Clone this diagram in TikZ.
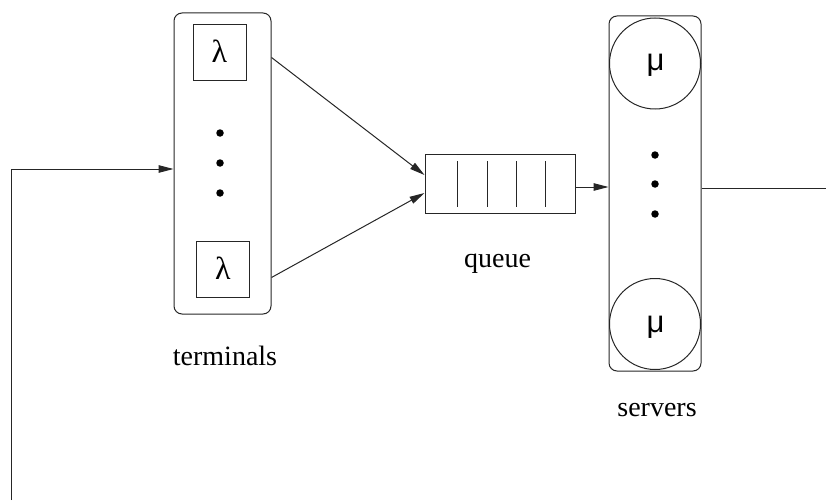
\documentclass[tikz,border=0pt]{standalone}
\usepackage{fontspec}
\setmainfont{Liberation Serif}
\newfontfamily\musans{Liberation Sans}
\usetikzlibrary{arrows.meta,calc}
\tikzset{
  ln/.style={draw=black!85, line width=1pt},
  arr/.style={ln, -{Triangle[length=15pt,width=7.5pt]}},
  grp/.style={ln, rectangle, rounded corners=8pt, inner sep=0pt},
  lbox/.style={ln, rectangle, inner sep=0pt, minimum width=53pt, minimum height=56pt},
  srv/.style={ln, circle, inner sep=0pt, minimum size=91pt},
  qbox/.style={ln, rectangle, inner sep=0pt, minimum width=150pt, minimum height=59pt},
  lbl/.style={anchor=base, inner sep=0pt, font=\fontsize{28}{34}\selectfont},
  sym/.style={anchor=base, inner sep=0pt, font=\fontsize{32}{38}\selectfont},
  dotc/.style={circle, fill=black, inner sep=0pt, minimum size=7.5pt}
}
\begin{document}
\begin{tikzpicture}[x=1pt,y=-1pt]
\useasboundingbox (0,0) rectangle (826,500);
% terminals group
\node[grp, minimum width=97pt, minimum height=301pt] (term) at (222.5,163.5) {};
\node[lbox] (lt) at (219.5,53) {};
\node[lbox] (lb) at (222.5,269.5) {};
\node[sym] (lamt) at (219.5,63) {λ};
\node[sym] (lamb) at (223,279.5) {λ};
\node[dotc] (td1) at (220,133) {};
\node[dotc] (td2) at (220,163) {};
\node[dotc] (td3) at (220,193) {};
\node[lbl] (tlab) at (225,365) {terminals};
% queue
\node[qbox] (queue) at (500,183.5) {};
\foreach \xx/\nm in {457/q1,487/q2,516/q3,545/q4}{
  \coordinate (\nm t) at (\xx,161);
  \coordinate (\nm b) at (\xx,207);
  \draw[ln] (\nm t) -- (\nm b);
}
\node[lbl] (qlab) at (497.5,267) {queue};
% servers
\node[grp, minimum width=92pt, minimum height=355pt] (serv) at (655,193.5) {};
\node[srv] (mt) at (655,63.5) {};
\node[srv] (mb) at (655,324) {};
\node[sym, font=\musans\fontsize{31}{37}\selectfont] (mut) at (655.5,71) {μ};
\node[sym, font=\musans\fontsize{31}{37}\selectfont] (mub) at (655.5,332) {μ};
\node[dotc] (sd1) at (655,155) {};
\node[dotc] (sd2) at (655,184) {};
\node[dotc] (sd3) at (655,214) {};
\node[lbl] (slab) at (657,416) {servers};
% connectors
\draw[arr] ($(term.north east)+(0,45)$) -- ($(queue.west)+(0,-8.5)$);
\draw[arr] ($(term.south east)+(0,-37)$) -- ($(queue.west)+(0,9.5)$);
\draw[arr] ($(queue.east)+(0,3.5)$) -- ($(serv.west)+(0,-6.5)$);
\coordinate (outend) at (826,188);
\draw[ln] (serv.east |- outend) -- (outend);
\coordinate (fbstart) at (11,500);
\draw[arr] (fbstart) |- ($(term.west)+(0,5.5)$);
\end{tikzpicture}
\end{document}
